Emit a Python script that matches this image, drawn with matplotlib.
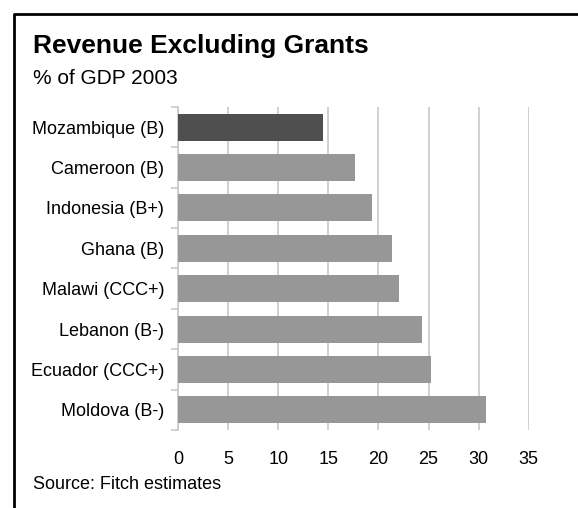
import matplotlib
matplotlib.use('Agg')
from matplotlib import pyplot as plt
from matplotlib.lines import Line2D
import numpy as np

plt.rcParams['font.family'] = ['Liberation Sans', 'DejaVu Sans']

countries = ['Mozambique (B)', 'Cameroon (B)', 'Indonesia (B+)', 'Ghana (B)',
             'Malawi (CCC+)', 'Lebanon (B-)', 'Ecuador (CCC+)', 'Moldova (B-)']
revenue = [14.5, 17.7, 19.4, 21.4, 22.1, 24.4, 25.2, 30.7]
xticks = [0, 5, 10, 15, 20, 25, 30, 35]

# Mozambique highlighted, the rest grey
colors = ['#4f4f4f'] + ['#979797'] * (len(countries) - 1)

fig = plt.figure(figsize=(5.78, 5.08), dpi=100)
ax = fig.add_axes([0.308, 0.1535, 0.6067, 0.636])

ypos = np.arange(len(countries))
ax.barh(ypos, revenue, height=0.67, color=colors, zorder=3)

ax.set_xlim(0, 35)
ax.set_ylim(len(countries) - 0.5, -0.5)
ax.set_xticks(xticks)
ax.set_xticklabels([str(t) for t in xticks])
ax.set_yticks(ypos)
ax.set_yticklabels(countries)
ax.set_yticks(np.arange(len(countries) + 1) - 0.5, minor=True)

ax.tick_params(axis='x', length=0, pad=15, labelsize=13)
ax.tick_params(axis='y', which='major', length=0, pad=10, labelsize=13)
ax.tick_params(axis='y', which='minor', length=5, width=1.2, color='#c8c8c8')

for s in ['top', 'right', 'bottom']:
    ax.spines[s].set_visible(False)
ax.spines['left'].set_color('#c8c8c8')
ax.spines['left'].set_linewidth(1.2)

ax.grid(axis='x', color='#c8c8c8', linewidth=1.2, zorder=0)
ax.set_axisbelow(True)

# frame along top and left
fig.add_artist(Line2D([0.0242, 0.0242, 1.0], [0.0, 0.9724, 0.9724],
                      transform=fig.transFigure, color='black', linewidth=2.0))

fig.text(0.0566, 0.895, 'Revenue Excluding Grants', fontsize=19,
         fontweight='bold', va='baseline', ha='left')
fig.text(0.0566, 0.834, '% of GDP 2003', fontsize=15, va='baseline', ha='left')
fig.text(0.0566, 0.0374, 'Source: Fitch estimates', fontsize=13,
         va='baseline', ha='left')

fig.savefig('out.png', dpi=100)
